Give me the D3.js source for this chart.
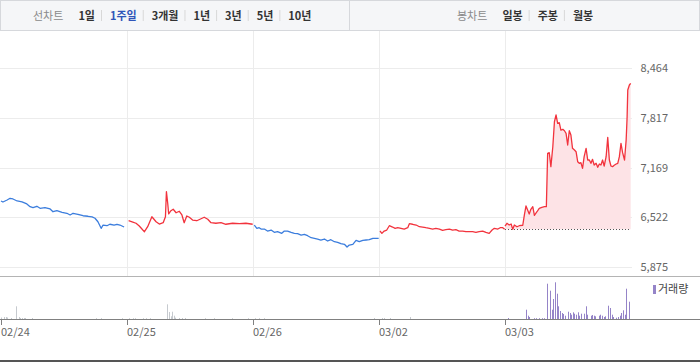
<!DOCTYPE html>
<html>
<head>
<meta charset="utf-8">
<script src="https://cdn.jsdelivr.net/npm/d3@7"></script>
<style>
  html, body { margin: 0; padding: 0; background: #fff; }
  svg { display: block; font-family: "Noto Sans CJK KR", "Noto Sans", sans-serif; }
  .tab { font-size: 11px; font-weight: bold; fill: #333; }
  .tab.on { fill: #2f55b9; }
  .tab.title { font-weight: normal; fill: #8a8a8a; }
  .sep { stroke: #d8d8d8; }
  .grid line { stroke: #ececec; }
  .ylab, .xlab { font-size: 11px; fill: #666; }
</style>
</head>
<body>
<div id="chart"></div>
<script>
// --- data: minute since 09:00 and price, one array per trading day ---
const dayLabels = ["02/24", "02/25", "02/26", "03/02", "03/03"];
const priceTicks = [5875, 6522, 7169, 7817, 8464];
const closeBeforeFirstDay = 6780;

const day0224 = [
  [0, 6734], [6, 6721], [19, 6747], [28, 6769], [37, 6760], [50, 6734], [65, 6721],
  [80, 6695], [90, 6660], [99, 6647], [111, 6665], [121, 6639], [136, 6647], [152, 6630],
  [161, 6594], [173, 6607], [189, 6587], [204, 6574], [214, 6552], [223, 6574], [238, 6561],
  [254, 6542], [269, 6535], [282, 6526], [291, 6509], [300, 6464], [310, 6378], [316, 6421],
  [328, 6412], [337, 6431], [350, 6421], [359, 6431], [368, 6421], [381, 6395]
];
const day0225 = [
  [5, 6477], [18, 6460], [28, 6444], [38, 6408], [49, 6356], [54, 6334], [64, 6399],
  [77, 6529], [90, 6464], [100, 6434], [112, 6451], [119, 6529], [122, 6855], [126, 6704],
  [129, 6565], [136, 6607], [143, 6626], [152, 6581], [162, 6600], [170, 6552], [177, 6451],
  [185, 6539], [193, 6522], [203, 6486], [216, 6477], [226, 6496], [239, 6522], [250, 6496],
  [260, 6451], [275, 6444], [291, 6451], [306, 6431], [327, 6444], [348, 6438], [368, 6444],
  [389, 6431]
];
const day0226 = [
  [4, 6421], [12, 6378], [19, 6386], [25, 6369], [35, 6369], [45, 6343], [56, 6356],
  [66, 6326], [76, 6334], [89, 6313], [97, 6343], [107, 6343], [118, 6326], [128, 6313],
  [138, 6308], [149, 6291], [159, 6300], [169, 6282], [180, 6256], [190, 6248], [200, 6239],
  [210, 6226], [221, 6239], [231, 6213], [241, 6230], [252, 6204], [262, 6196], [272, 6178],
  [283, 6170], [291, 6135], [298, 6161], [309, 6170], [319, 6222], [329, 6204], [340, 6222],
  [350, 6226], [360, 6230], [371, 6248], [381, 6248], [389, 6248]
];
const day0302 = [
  [3, 6343], [9, 6313], [16, 6343], [24, 6356], [32, 6412], [42, 6395], [50, 6378],
  [58, 6386], [68, 6378], [78, 6369], [89, 6386], [94, 6438], [104, 6431], [115, 6421],
  [125, 6399], [135, 6395], [145, 6386], [156, 6378], [166, 6369], [176, 6378], [187, 6369],
  [197, 6352], [207, 6360], [218, 6369], [228, 6356], [238, 6360], [248, 6343], [259, 6343],
  [269, 6334], [279, 6334], [290, 6334], [300, 6326], [310, 6334], [321, 6343], [331, 6326],
  [341, 6313], [350, 6356], [357, 6378], [368, 6369], [375, 6386], [383, 6386], [389, 6365]
];
const day0303 = [
  [0, 6408], [6, 6444], [13, 6421], [19, 6434], [24, 6365], [29, 6421], [37, 6399],
  [44, 6412], [55, 6418], [60, 6552], [65, 6669], [70, 6617], [75, 6565], [80, 6626],
  [86, 6660], [91, 6548], [99, 6594], [106, 6639], [114, 6652], [122, 6660], [128, 6660],
  [132, 7354], [137, 7362], [142, 7180], [148, 7440], [153, 7765], [158, 7853], [163, 7745],
  [168, 7752], [173, 7657], [179, 7666], [184, 7648], [189, 7614], [194, 7462], [199, 7648],
  [204, 7592], [209, 7419], [215, 7397], [220, 7375], [225, 7245], [230, 7224], [235, 7232],
  [240, 7159], [245, 7310], [251, 7419], [256, 7267], [261, 7267], [266, 7224], [271, 7276],
  [276, 7202], [282, 7224], [287, 7172], [292, 7215], [297, 7202], [302, 7267], [307, 7189],
  [313, 7310], [318, 7562], [323, 7267], [328, 7189], [333, 7180], [338, 7198], [344, 7215],
  [349, 7224], [354, 7310], [359, 7484], [364, 7362], [370, 7267], [375, 7527], [378, 7830],
  [380, 8178], [385, 8243], [389, 8265]
];
const priceDays = [day0224, day0225, day0226, day0302, day0303];

// volume per 5-minute bar: [minute, shares]
const vol0224 = [
  [0, 15000], [10, 20000], [15, 20000], [20, 15000], [30, 10000], [45, 127000], [55, 20000],
  [60, 10000], [65, 10000], [70, 10000], [75, 10000], [95, 10000], [295, 8000], [310, 8000],
  [375, 8000]
];
const vol0225 = [
  [5, 8000], [20, 8000], [25, 8000], [50, 8000], [60, 8000], [70, 8000], [125, 147000],
  [130, 70000], [135, 27000], [140, 73000], [145, 33000], [150, 13000], [160, 10000],
  [170, 10000], [180, 10000], [240, 8000], [270, 8000], [325, 8000], [375, 8000]
];
const vol0226 = [[5, 8000], [20, 8000], [35, 8000], [375, 10000]];
const vol0302 = [[10, 10000], [15, 10000], [35, 10000], [95, 20000]];
const vol0303 = [
  [10, 10000], [65, 93000], [70, 33000], [75, 20000], [90, 8000], [95, 8000], [105, 8000],
  [115, 8000], [120, 8000], [130, 353000], [140, 283000], [145, 93000], [150, 200000],
  [155, 367000], [160, 253000], [165, 127000], [170, 80000], [175, 60000], [180, 50000],
  [185, 33000], [195, 73000], [200, 60000], [205, 43000], [210, 67000], [215, 53000],
  [220, 43000], [225, 67000], [230, 33000], [235, 53000], [245, 53000], [250, 127000],
  [255, 43000], [265, 33000], [270, 40000], [275, 33000], [280, 27000], [290, 33000],
  [295, 43000], [300, 33000], [305, 20000], [310, 27000], [320, 133000], [325, 110000],
  [330, 43000], [335, 20000], [345, 13000], [350, 20000], [355, 33000], [360, 60000],
  [365, 87000], [370, 43000], [375, 303000], [385, 173000]
];
const volumeDays = [vol0224, vol0225, vol0226, vol0302, vol0303];

const lineTabs = ["1일", "1주일", "3개월", "1년", "3년", "5년", "10년"];
const candleTabs = ["일봉", "주봉", "월봉"];

// --- layout ---
const W = 700, H = 362;
const minutesPerDay = 390;
const svg = d3.select("#chart").append("svg").attr("width", W).attr("height", H);

// header tabs
svg.append("rect").attr("x", 0.5).attr("y", 0.5).attr("width", W - 1).attr("height", 30)
  .attr("fill", "#f5f6f8").attr("stroke", "#d6d8dc");
svg.append("line").attr("x1", 349.5).attr("x2", 349.5).attr("y1", 0).attr("y2", 31).attr("stroke", "#d6d8dc");

function drawTabs(title, tabs, x0, selected) {
  const g = svg.append("g");
  let x = x0;
  const t = g.append("text").attr("class", "tab title").attr("x", x).attr("y", 19.5).text(title);
  x += t.node().getComputedTextLength() + 15;
  tabs.forEach((name, i) => {
    if (i > 0) {
      g.append("line").attr("class", "sep").attr("x1", x + 0.5).attr("x2", x + 0.5)
        .attr("y1", 10).attr("y2", 21);
      x += 9;
    }
    const el = g.append("text").attr("class", "tab" + (name === selected ? " on" : ""))
      .attr("x", x).attr("y", 19.5).text(name);
    x += el.node().getComputedTextLength() + 6;
  });
}
drawTabs("선차트", lineTabs, 33, "1주일");
drawTabs("봉차트", candleTabs, 457, null);

// scales
const x = d3.scaleLinear().domain([0, dayLabels.length * minutesPerDay]).range([1, 631]);
const y = d3.scaleLinear().domain([5875, 8464]).range([267, 68]);
const yv = d3.scaleLinear().domain([0, 360000]).range([319, 283]);
const t = (d, m) => d * minutesPerDay + m;

// grid
const grid = svg.append("g").attr("class", "grid");
grid.selectAll(".h").data(priceTicks).join("line")
  .attr("x1", 0).attr("x2", 632)
  .attr("y1", d => Math.round(y(d)) + 0.5).attr("y2", d => Math.round(y(d)) + 0.5);
grid.selectAll(".v").data(dayLabels.slice(1)).join("line")
  .attr("x1", (d, i) => Math.round(x(t(i + 1, 0))) + 0.5)
  .attr("x2", (d, i) => Math.round(x(t(i + 1, 0))) + 0.5)
  .attr("y1", 31).attr("y2", 276);

// price axis labels on the right
svg.selectAll(".ylab").data(priceTicks).join("text")
  .attr("class", "ylab").attr("x", 668).attr("y", d => y(d) + 4)
  .attr("text-anchor", "end").text(d3.format(","));

// panel borders
svg.append("line").attr("x1", 0).attr("x2", W).attr("y1", 276.5).attr("y2", 276.5).attr("stroke", "#b4b4b4");
svg.append("line").attr("x1", 0).attr("x2", W).attr("y1", 361).attr("y2", 361)
  .attr("stroke", "#555").attr("stroke-width", 2);

// price lines, coloured by the day's change
const prevCloses = [closeBeforeFirstDay].concat(priceDays.slice(0, -1).map(d => d[d.length - 1][1]));
const line = d3.line().x(p => x(p.t)).y(p => y(p.v));

priceDays.forEach((day, i) => {
  const pts = day.map(([m, v]) => ({ t: t(i, m), v }));
  const up = day[day.length - 1][1] >= prevCloses[i];
  const last = i === priceDays.length - 1;
  if (last) {
    const area = d3.area().x(p => x(p.t)).y0(y(prevCloses[i])).y1(p => y(p.v));
    svg.append("path").datum(pts).attr("d", area).attr("fill", "#fde3e6");
    svg.append("line")
      .attr("x1", x(t(i, 0))).attr("x2", x(t(i, minutesPerDay)))
      .attr("y1", Math.round(y(prevCloses[i])) + 0.5).attr("y2", Math.round(y(prevCloses[i])) + 0.5)
      .attr("stroke", "#555").attr("stroke-dasharray", "1,2");
  }
  svg.append("path").datum(pts).attr("d", line)
    .attr("fill", "none").attr("stroke", up ? "#f2333d" : "#3b7ddd")
    .attr("stroke-width", 1.3).attr("stroke-linejoin", "round");
});

// volume bars
volumeDays.forEach((day, i) => {
  const last = i === volumeDays.length - 1;
  svg.append("g").selectAll("rect").data(day).join("rect")
    .attr("x", d => Math.round(x(t(i, d[0]))))
    .attr("y", d => yv(d[1]))
    .attr("width", 1)
    .attr("height", d => yv(0) - yv(d[1]))
    .attr("fill", last ? "#9584c8" : "#c6cacf");
});

// x axis
svg.append("line").attr("x1", 0).attr("x2", W).attr("y1", 319.5).attr("y2", 319.5).attr("stroke", "#808080");
const xt = svg.append("g");
dayLabels.forEach((lab, i) => {
  const px = Math.round(x(t(i, 0))) + 0.5;
  xt.append("line").attr("x1", px).attr("x2", px).attr("y1", 320).attr("y2", 325).attr("stroke", "#808080");
  xt.append("text").attr("class", "xlab").attr("x", px - 0.5).attr("y", 336).text(lab);
});

// legend
svg.append("rect").attr("x", 653).attr("y", 285).attr("width", 3).attr("height", 9).attr("fill", "#9584c8");
svg.append("text").attr("x", 658).attr("y", 293).attr("font-size", 11).attr("fill", "#444").text("거래량");
</script>
</body>
</html>
